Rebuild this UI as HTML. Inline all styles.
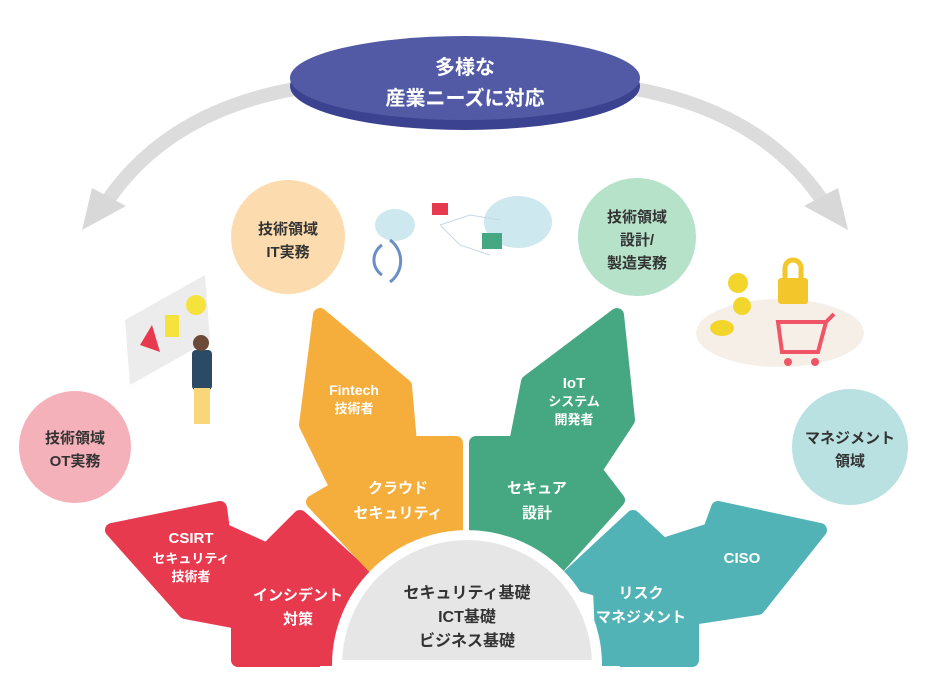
<!DOCTYPE html>
<html><head><meta charset="utf-8"><style>
body{margin:0;width:930px;height:700px;background:#fff;overflow:hidden}
svg{display:block}
text{font-family:"Liberation Sans","Noto Sans CJK JP",sans-serif;font-weight:bold;text-anchor:middle}
</style></head><body>
<svg width="930" height="700" viewBox="0 0 930 700">
<!-- gray curved arrows -->
<path d="M300,88 Q170,110 108,200" fill="none" stroke="#dcdcdc" stroke-width="14"/>
<polygon points="82,230 92,188 126,206" fill="#d8d8d8"/>
<path d="M630,88 Q760,110 822,200" fill="none" stroke="#dcdcdc" stroke-width="14"/>
<polygon points="848,230 838,188 804,206" fill="#d8d8d8"/>
<!-- top ellipse -->
<ellipse cx="465" cy="86" rx="175" ry="44" fill="#3b4290"/>
<ellipse cx="465" cy="78" rx="175" ry="42" fill="#525aa6"/>
<text x="465" y="74" font-size="20" fill="#fff">多様な</text>
<text x="465" y="105" font-size="20" fill="#fff">産業ニーズに対応</text>
<!-- circles -->
<circle cx="75" cy="447" r="56" fill="#f5b1ba"/>
<text x="75" y="443" font-size="15" fill="#333">技術領域</text>
<text x="75" y="466" font-size="15" fill="#333">OT実務</text>
<circle cx="288" cy="237" r="57" fill="#fcdcae"/>
<text x="288" y="234" font-size="15" fill="#333">技術領域</text>
<text x="288" y="257" font-size="15" fill="#333">IT実務</text>
<circle cx="637" cy="237" r="59" fill="#b6e2ca"/>
<text x="637" y="222" font-size="15" fill="#333">技術領域</text>
<text x="637" y="245" font-size="15" fill="#333">設計/</text>
<text x="637" y="268" font-size="15" fill="#333">製造実務</text>
<circle cx="850" cy="447" r="58" fill="#b9e1e1"/>
<text x="850" y="443" font-size="15" fill="#333">マネジメント</text>
<text x="850" y="466" font-size="15" fill="#333">領域</text>
<!-- illustrations -->
<polygon points="125,320 205,275 210,340 130,385" fill="#ececec"/>
<polygon points="140,345 152,325 160,352" fill="#e83a4f"/>
<rect x="165" y="315" width="14" height="22" fill="#f5e23c"/>
<circle cx="196" cy="305" r="10" fill="#f5e23c"/>
<rect x="192" y="350" width="20" height="40" rx="4" fill="#2b4a66"/>
<circle cx="201" cy="343" r="8" fill="#6b4a3a"/>
<rect x="194" y="388" width="16" height="36" fill="#f8d77a"/>
<ellipse cx="780" cy="333" rx="84" ry="34" fill="#f5efe8"/>
<circle cx="738" cy="283" r="10" fill="#f3d62c"/>
<circle cx="742" cy="306" r="9" fill="#f3d62c"/>
<ellipse cx="722" cy="328" rx="12" ry="8" fill="#f3d62c"/>
<rect x="778" y="278" width="30" height="26" rx="3" fill="#f3c72c"/>
<path d="M785,278 v-10 a8,8 0 0 1 16,0 v10" fill="none" stroke="#f3c72c" stroke-width="5"/>
<path d="M778,322 h48 l-8,30 h-36 z M826,322 l8,-8" fill="none" stroke="#ef5566" stroke-width="4"/>
<circle cx="788" cy="362" r="4" fill="#ef5566"/><circle cx="815" cy="362" r="4" fill="#ef5566"/>
<ellipse cx="395" cy="225" rx="20" ry="16" fill="#cde8ef"/>
<ellipse cx="518" cy="222" rx="34" ry="26" fill="#cde8ef"/>
<path d="M382,245 a18,18 0 0 0 0,30 M390,240 a26,26 0 0 1 0,42" fill="none" stroke="#6a8fc8" stroke-width="3"/>
<rect x="432" y="203" width="16" height="12" fill="#e83a4f"/>
<rect x="482" y="233" width="20" height="16" fill="#45a882"/>
<path d="M440,225 L470,215 L500,220 M440,225 L460,245 L490,255" stroke="#c7d7e2" fill="none"/>
<!-- arrows -->
<g stroke-linejoin="round" stroke-width="14">
<polygon fill="#e83a4f" stroke="#e83a4f" points="238,660 238,622 185,612 112,530 220,508 223,530 267,550 300,517 370,580 345,660"/>
<polygon fill="#f5ae3c" stroke="#f5ae3c" points="320,315 405,386 410,443 456,443 456,545 377,570 313,502 337,488 306,425"/>
<polygon fill="#45a882" stroke="#45a882" points="617,315 628,420 595,470 618,500 557,568 476,545 476,443 516,443 528,382"/>
<polygon fill="#52b3b6" stroke="#52b3b6" points="603,660 600,590 565,580 633,517 663,545 710,530 718,508 820,530 758,608 692,618 692,660"/>
</g>
<text x="191" y="543" font-size="15" fill="#fff">CSIRT</text>
<text x="191" y="563" font-size="13" fill="#fff" font-weight="normal">セキュリティ</text>
<text x="191" y="581" font-size="13" fill="#fff" font-weight="normal">技術者</text>
<text x="298" y="600" font-size="15" fill="#fff">インシデント</text>
<text x="298" y="624" font-size="15" fill="#fff">対策</text>
<text x="354" y="395" font-size="14" fill="#fff">Fintech</text>
<text x="354" y="413" font-size="13" fill="#fff" font-weight="normal">技術者</text>
<text x="398" y="493" font-size="15" fill="#fff">クラウド</text>
<text x="398" y="518" font-size="15" fill="#fff">セキュリティ</text>
<text x="574" y="388" font-size="15" fill="#fff">IoT</text>
<text x="574" y="406" font-size="13" fill="#fff" font-weight="normal">システム</text>
<text x="574" y="424" font-size="13" fill="#fff" font-weight="normal">開発者</text>
<text x="537" y="493" font-size="15" fill="#fff">セキュア</text>
<text x="537" y="518" font-size="15" fill="#fff">設計</text>
<text x="742" y="563" font-size="15" fill="#fff">CISO</text>
<text x="641" y="598" font-size="15" fill="#fff">リスク</text>
<text x="641" y="622" font-size="15" fill="#fff">マネジメント</text>
<!-- half circle -->
<path d="M337,665 A130,130 0 0 1 597,665 Z" fill="#e6e6e6" stroke="#fff" stroke-width="10"/>
<rect x="320" y="666" width="300" height="40" fill="#fff"/>
<text x="467" y="598" font-size="16" fill="#333">セキュリティ基礎</text>
<text x="467" y="622" font-size="16" fill="#333">ICT基礎</text>
<text x="467" y="646" font-size="16" fill="#333">ビジネス基礎</text>
</svg>
</body></html>
